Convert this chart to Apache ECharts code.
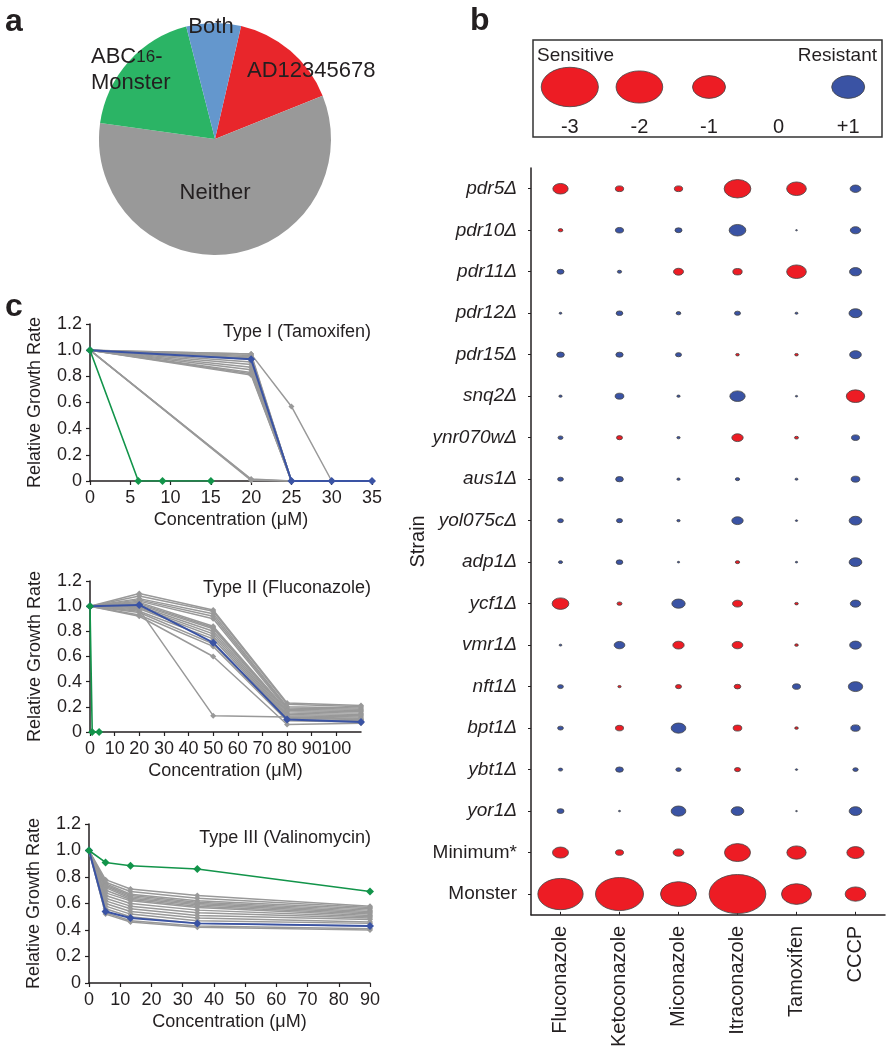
<!DOCTYPE html>
<html><head><meta charset="utf-8">
<script src="https://cdn.jsdelivr.net/npm/echarts@6/dist/echarts.min.js"></script>
<style>html,body{margin:0;padding:0;background:#fff}#c{width:893px;height:1050px}</style>
</head><body><div id="c"></div><script>
// ---------- Panel a: pie ----------
const pieNames = ['AD12345678', 'Neither', 'ABC16-Monster', 'Both'];
const pieValues = [15.3, 58.3, 18.8, 7.6];

// ---------- Panel b: bubble legend and grid ----------
const legendValues = [-3, -2, -1, 0, 1];
const legendLabels = ['-3', '-2', '-1', '0', '+1'];
const drugs = ['Fluconazole', 'Ketoconazole', 'Miconazole', 'Itraconazole', 'Tamoxifen', 'CCCP'];
const strains = ['pdr5Δ', 'pdr10Δ', 'pdr11Δ', 'pdr12Δ', 'pdr15Δ', 'snq2Δ', 'ynr070wΔ', 'aus1Δ', 'yol075cΔ',
  'adp1Δ', 'ycf1Δ', 'vmr1Δ', 'nft1Δ', 'bpt1Δ', 'ybt1Δ', 'yor1Δ', 'Minimum*', 'Monster'];
const fluconazole = [-0.215, -0.02, 0.045, 0.007, 0.054, 0.01, 0.023, 0.03, 0.03, 0.015, -0.256, 0.007, 0.03, 0.03, 0.017, 0.045, -0.235, -1.885];
const ketoconazole = [-0.063, 0.059, 0.017, 0.041, 0.049, 0.069, -0.033, 0.054, 0.033, 0.041, -0.023, 0.105, -0.01, -0.059, 0.054, 0.004, -0.059, -2.116];
const miconazole = [-0.063, 0.045, -0.092, 0.02, 0.033, 0.01, 0.01, 0.01, 0.01, 0.005, 0.163, -0.118, -0.033, 0.198, 0.026, 0.198, -0.105, -1.19];
const itraconazole = [-0.655, 0.256, -0.08, 0.033, -0.012, 0.215, -0.118, 0.017, 0.118, -0.017, -0.092, -0.105, -0.041, -0.069, -0.033, 0.148, -0.62, -2.95];
const tamoxifen = [-0.356, 0.003, -0.356, 0.008, -0.012, 0.005, -0.015, 0.008, 0.005, 0.005, -0.012, -0.012, 0.059, -0.012, 0.005, 0.003, -0.342, -0.826];
const cccp = [0.105, 0.098, 0.132, 0.155, 0.125, -0.31, 0.059, 0.069, 0.148, 0.148, 0.098, 0.125, 0.188, 0.08, 0.026, 0.148, -0.275, -0.393];
const drugScores = [fluconazole, ketoconazole, miconazole, itraconazole, tamoxifen, cccp];

// ---------- Panel c: growth curves ----------
const t1X = [0, 20, 25, 30, 35];
const t1Gray = [
  [1, 0.97, 0, 0, 0], [1, 0.96, 0, 0, 0], [1, 0.95, 0, 0, 0], [1, 0.94, 0, 0, 0],
  [1, 0.93, 0, 0, 0], [1, 0.91, 0, 0, 0], [1, 0.89, 0, 0, 0], [1, 0.87, 0, 0, 0],
  [1, 0.85, 0, 0, 0], [1, 0.83, 0, 0, 0], [1, 0.82, 0, 0, 0], [1, 0.81, 0, 0, 0],
  [1, 0.01, 0, 0, 0], [1, 0.015, 0, 0, 0], [1, 0.005, 0, 0, 0], [1, 0.97, 0.57, 0, 0]];
const t1Blue = [1, 0.93, 0, 0, 0];
const t1GreenX = [0, 6, 9, 15];
const t1Green = [1, 0, 0, 0];

const t2X = [0, 20, 50, 80, 110];
const t2Gray = [
  [1, 1.10, 0.97, 0.23, 0.21], [1, 1.08, 0.96, 0.22, 0.20], [1, 1.06, 0.94, 0.20, 0.19], [1, 1.05, 0.92, 0.19, 0.18],
  [1, 1.04, 0.90, 0.18, 0.17], [1, 1.03, 0.84, 0.17, 0.16], [1, 1.02, 0.83, 0.16, 0.15], [1, 1.01, 0.82, 0.15, 0.14],
  [1, 1.00, 0.80, 0.14, 0.13], [1, 0.99, 0.78, 0.13, 0.12], [1, 0.98, 0.76, 0.12, 0.11], [1, 0.96, 0.74, 0.11, 0.10],
  [1, 0.95, 0.70, 0.10, 0.09], [1, 0.93, 0.68, 0.09, 0.08], [1, 0.92, 0.60, 0.06, 0.07], [1, 0.97, 0.13, 0.12, 0.10]];
const t2Blue = [1, 1.01, 0.71, 0.10, 0.08];
const t2GreenX = [0, 0.9, 3.7];
const t2Green = [1, 0, 0];

const t3X = [0, 5.3, 13.3, 34.7, 90];
const t3Gray = [
  [1, 0.78, 0.71, 0.66, 0.58], [1, 0.76, 0.69, 0.64, 0.57], [1, 0.75, 0.67, 0.62, 0.56], [1, 0.74, 0.66, 0.61, 0.55],
  [1, 0.73, 0.65, 0.60, 0.54], [1, 0.72, 0.64, 0.59, 0.53], [1, 0.70, 0.63, 0.58, 0.52], [1, 0.68, 0.62, 0.57, 0.51],
  [1, 0.66, 0.60, 0.55, 0.50], [1, 0.64, 0.58, 0.53, 0.49], [1, 0.62, 0.56, 0.51, 0.48], [1, 0.60, 0.54, 0.49, 0.46],
  [1, 0.58, 0.52, 0.47, 0.45], [1, 0.56, 0.50, 0.45, 0.43], [1, 0.53, 0.47, 0.43, 0.41], [1, 0.52, 0.46, 0.42, 0.40]];
const t3Blue = [1, 0.54, 0.49, 0.45, 0.43];
const t3Green = [1, 0.91, 0.885, 0.86, 0.69];

const chartTitles = ['Type I (Tamoxifen)', 'Type II (Fluconazole)', 'Type III (Valinomycin)'];

// ---------- styling ----------
const FONT = '"Liberation Sans", Arial, Helvetica, sans-serif';
const TXT = '#231f20';
const RED = '#ed1c24', BLUE = '#3a53a4', GRAY = '#999999', GREEN = '#12944a';
const pieColors = ['#e8262b', '#999999', '#2bb465', '#6497cd'];

function bubbleSize(v) { const w = 33 * Math.sqrt(Math.abs(v[2])); return [w, w / 1.45]; }
function bubbleColor(p) { return p.data[2] < 0 ? RED : BLUE; }

const bubbleData = [];
drugScores.forEach((arr, i) => arr.forEach((v, j) => bubbleData.push([i, j, v])));
const legendData = legendValues.map((v, i) => [i, 0, v]);

function yFmt(v) { return v === 0 ? '0' : v.toFixed(1); }
function valueX(grid, max, interval) {
  return {
    type: 'value', gridIndex: grid, min: 0, max: max, interval: interval,
    axisLine: { show: true, lineStyle: { color: TXT, width: 1.5 } },
    axisTick: { show: true, length: 4, lineStyle: { color: TXT, width: 1.2 } },
    splitLine: { show: false },
    axisLabel: { fontSize: 18, fontFamily: FONT, color: TXT, margin: 8 },
    name: 'Concentration (μM)', nameLocation: 'middle', nameGap: 30,
    nameTextStyle: { fontSize: 18, fontFamily: FONT, color: TXT }
  };
}
function valueY(grid) {
  return {
    type: 'value', gridIndex: grid, min: 0, max: 1.2, interval: 0.2,
    axisLine: { show: true, lineStyle: { color: TXT, width: 1.5 } },
    axisTick: { show: true, length: 4, lineStyle: { color: TXT, width: 1.2 } },
    splitLine: { show: false },
    axisLabel: { fontSize: 18, fontFamily: FONT, color: TXT, margin: 8, formatter: yFmt },
    name: 'Relative Growth Rate', nameLocation: 'middle', nameGap: 46,
    nameTextStyle: { fontSize: 18, fontFamily: FONT, color: TXT }
  };
}
function lineS(idx, xs, ys, color, sym, width, z) {
  return {
    type: 'line', xAxisIndex: idx, yAxisIndex: idx, data: xs.map((x, i) => [x, ys[i]]),
    symbol: 'diamond', symbolSize: sym, showSymbol: true, z: z, silent: true,
    itemStyle: { color: color, opacity: 1 }, lineStyle: { color: color, width: width }
  };
}

const series = [];
series.push({
  type: 'pie', center: [215, 139], radius: 116, startAngle: 77, clockwise: true, silent: true, z: 1,
  label: { show: false }, labelLine: { show: false },
  data: pieNames.map((n, i) => ({ name: n, value: pieValues[i], itemStyle: { color: pieColors[i] } }))
});
series.push({
  type: 'scatter', xAxisIndex: 0, yAxisIndex: 0, data: legendData, symbol: 'circle', symbolSize: bubbleSize,
  itemStyle: { color: bubbleColor, borderColor: '#444', borderWidth: 0.8, opacity: 1 }, silent: true
});
series.push({
  type: 'scatter', xAxisIndex: 1, yAxisIndex: 1, data: bubbleData, symbol: 'circle', symbolSize: bubbleSize,
  itemStyle: { color: bubbleColor, borderColor: '#444', borderWidth: 0.8, opacity: 1 }, silent: true
});
[[t1X, t1Gray, t1Blue, t1GreenX, t1Green], [t2X, t2Gray, t2Blue, t2GreenX, t2Green], [t3X, t3Gray, t3Blue, t3X, t3Green]]
  .forEach((c, k) => {
    const idx = k + 2;
    c[1].forEach(ys => series.push(lineS(idx, c[0], ys, GRAY, 6, 1.5, 3)));
    series.push(lineS(idx, c[0], c[2], BLUE, 8, 2, 5));
    series.push(lineS(idx, c[3], c[4], GREEN, 8, 1.6, 6));
  });

function txt(text, x, y, size, align, weight) {
  return {
    type: 'text', silent: true, z: 100, zlevel: 0,
    style: { text: text, x: x, y: y, fill: TXT, font: (weight ? weight + ' ' : '') + size + 'px ' + FONT,
      textAlign: align, textVerticalAlign: 'middle' }
  };
}

const option = {
  animation: false,
  backgroundColor: '#fff',
  textStyle: { fontFamily: FONT, color: TXT },
  grid: [
    { left: 535, top: 47, width: 348, height: 80 },
    { left: 531, top: 168, width: 354, height: 749 },
    { left: 90, top: 324, width: 282, height: 157 },
    { left: 90, top: 581, width: 271, height: 151 },
    { left: 89, top: 824, width: 281, height: 159 }
  ],
  xAxis: [
    { type: 'category', gridIndex: 0, data: legendLabels, axisLine: { show: false }, axisTick: { show: false },
      axisLabel: { margin: 0, verticalAlign: 'middle', fontSize: 20, fontFamily: FONT, color: TXT, interval: 0 } },
    { type: 'category', gridIndex: 1, data: drugs,
      axisLine: { lineStyle: { color: TXT, width: 1.5 } },
      axisTick: { show: true, inside: true, length: 3, alignWithLabel: true, lineStyle: { color: TXT } },
      axisLabel: { rotate: 90, margin: 11, fontSize: 20, fontFamily: FONT, color: TXT, interval: 0 } },
    valueX(2, 35, 5), valueX(3, 110, 10), valueX(4, 90, 10)
  ],
  yAxis: [
    { type: 'category', gridIndex: 0, data: ['scale'], show: false },
    { type: 'category', gridIndex: 1, data: strains, inverse: true,
      axisLine: { lineStyle: { color: TXT, width: 1.5 } },
      axisTick: { show: true, length: 3, alignWithLabel: true, lineStyle: { color: TXT } },
      axisLabel: { margin: 14, fontSize: 19, fontFamily: FONT, color: TXT, interval: 0,
        formatter: v => (v.indexOf('Δ') >= 0 ? '{i|' + v + '}' : '{n|' + v + '}'),
        rich: { i: { fontStyle: 'italic', fontSize: 19, fontFamily: FONT, color: TXT }, n: { fontSize: 19, fontFamily: FONT, color: TXT } } },
      name: 'Strain', nameLocation: 'middle', nameGap: 86, nameRotate: 90,
      nameTextStyle: { fontSize: 20, fontFamily: FONT, color: TXT } },
    valueY(2), valueY(3), valueY(4)
  ],
  series: series,
  graphic: {
    elements: [
      txt('a', 5, 22, 32, 'left', 'bold'),
      txt('b', 470, 21, 32, 'left', 'bold'),
      txt('c', 5, 307, 32, 'left', 'bold'),
      txt('Both', 211, 27, 22, 'center'),
      txt('AD12345678', 247, 71, 22, 'left'),
      { type: 'text', silent: true, z: 100, style: { text: '{a|ABC}{s|16}{a|-}', x: 91, y: 57, textAlign: 'left', textVerticalAlign: 'middle',
          rich: { a: { fontSize: 22, fontFamily: FONT, fill: TXT, color: TXT }, s: { fontSize: 17, fontFamily: FONT, fill: TXT, color: TXT } } } },
      txt('Monster', 91, 83, 22, 'left'),
      txt('Neither', 215, 193, 22, 'center'),
      { type: 'rect', silent: true, z: 100, shape: { x: 533, y: 40, width: 349, height: 97 }, style: { fill: 'none', stroke: '#333', lineWidth: 1.5 } },
      txt('Sensitive', 537, 56, 19, 'left'),
      txt('Resistant', 877, 56, 19, 'right'),
      txt(chartTitles[0], 371, 332, 18, 'right'),
      txt(chartTitles[1], 371, 588, 18, 'right'),
      txt(chartTitles[2], 371, 838, 18, 'right')
    ]
  }
};
const chart = echarts.init(document.getElementById('c'), null, { renderer: 'canvas' });
chart.setOption(option);
</script></body></html>
